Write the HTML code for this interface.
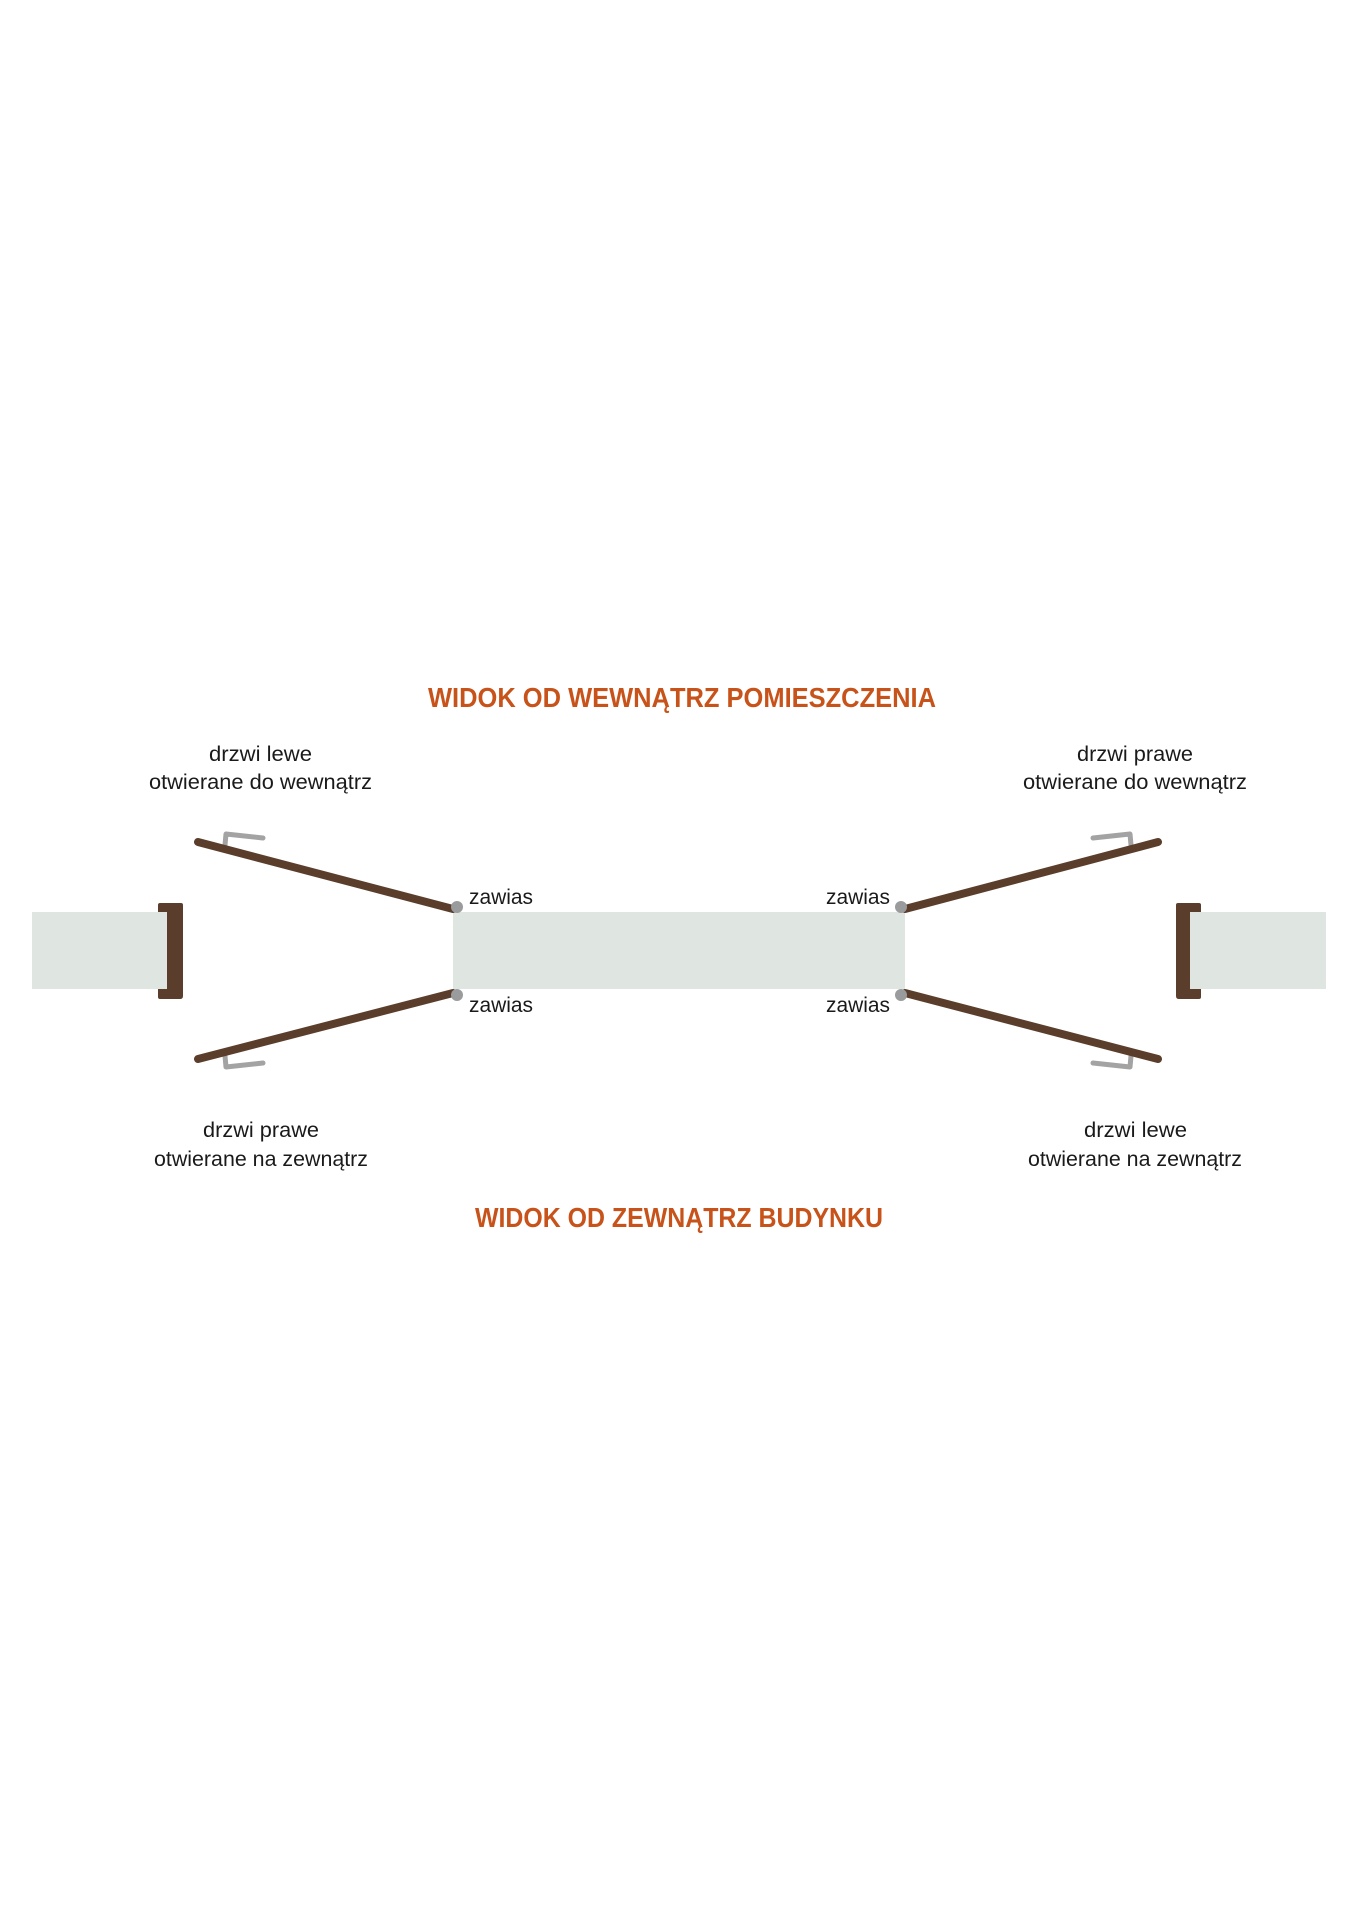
<!DOCTYPE html>
<html><head><meta charset="utf-8"><style>
html,body{margin:0;padding:0;background:#fff;}
svg{display:block;}
text{font-family:"Liberation Sans",sans-serif;}
</style></head><body>
<svg width="1358" height="1920" viewBox="0 0 1358 1920" xmlns="http://www.w3.org/2000/svg">
<rect width="1358" height="1920" fill="#fff"/>
<!-- walls -->
<rect x="32" y="912" width="140" height="77" fill="#dfe6e1"/>
<rect x="453" y="912" width="452" height="77" fill="#dfe6e1"/>
<rect x="1186" y="912" width="140" height="77" fill="#dfe6e1"/>
<!-- frames -->
<path d="M160 903 H181 Q183 903 183 905 V996 Q183 999 180 999 H160 Q158 999 158 997 V989 H167 V912 H158 V905 Q158 903 160 903 Z" fill="#5a3e2b"/>
<path d="M1199 903 H1178 Q1176 903 1176 905 V996 Q1176 999 1179 999 H1199 Q1201 999 1201 997 V989 H1190 V912 H1201 V905 Q1201 903 1199 903 Z" fill="#5a3e2b"/>
<!-- handles -->
<g fill="none" stroke="#a3a3a3" stroke-width="5" stroke-linecap="round" stroke-linejoin="round">
<polyline points="225,845 226,834 263,838"/>
<polyline points="225,1056 226,1067 263,1063"/>
<polyline points="1131,845 1130,834 1093,838"/>
<polyline points="1131,1056 1130,1067 1093,1063"/>
</g>
<!-- doors -->
<g stroke="#5a3e2b" stroke-width="8" stroke-linecap="round">
<line x1="198" y1="842" x2="453" y2="909"/>
<line x1="198" y1="1059" x2="453" y2="993"/>
<line x1="905" y1="909" x2="1158" y2="842"/>
<line x1="905" y1="993" x2="1158" y2="1059"/>
</g>
<!-- hinges -->
<g fill="#9a9b9c">
<circle cx="457" cy="907" r="6"/>
<circle cx="457" cy="995" r="6"/>
<circle cx="901" cy="907" r="6"/>
<circle cx="901" cy="995" r="6"/>
</g>
<!-- titles -->
<g fill="#c8531a" font-weight="bold" font-size="28">
<text x="428" y="707" textLength="508" lengthAdjust="spacingAndGlyphs">WIDOK OD WEWNĄTRZ POMIESZCZENIA</text>
<text x="475" y="1227" textLength="408" lengthAdjust="spacingAndGlyphs">WIDOK OD ZEWNĄTRZ BUDYNKU</text>
</g>
<!-- labels -->
<g fill="#1a1a1a" font-size="21">
<text x="209" y="761" textLength="103" lengthAdjust="spacingAndGlyphs">drzwi lewe</text>
<text x="149" y="789" textLength="223" lengthAdjust="spacingAndGlyphs">otwierane do wewnątrz</text>
<text x="203" y="1137" textLength="116" lengthAdjust="spacingAndGlyphs">drzwi prawe</text>
<text x="154" y="1166" textLength="214" lengthAdjust="spacingAndGlyphs">otwierane na zewnątrz</text>
<text x="1077" y="761" textLength="116" lengthAdjust="spacingAndGlyphs">drzwi prawe</text>
<text x="1023" y="789" textLength="224" lengthAdjust="spacingAndGlyphs">otwierane do wewnątrz</text>
<text x="1084" y="1137" textLength="103" lengthAdjust="spacingAndGlyphs">drzwi lewe</text>
<text x="1028" y="1166" textLength="214" lengthAdjust="spacingAndGlyphs">otwierane na zewnątrz</text>
<text x="469" y="904" textLength="64" lengthAdjust="spacingAndGlyphs">zawias</text>
<text x="469" y="1012" textLength="64" lengthAdjust="spacingAndGlyphs">zawias</text>
<text x="826" y="904" textLength="64" lengthAdjust="spacingAndGlyphs">zawias</text>
<text x="826" y="1012" textLength="64" lengthAdjust="spacingAndGlyphs">zawias</text>
</g>
</svg>
</body></html>
